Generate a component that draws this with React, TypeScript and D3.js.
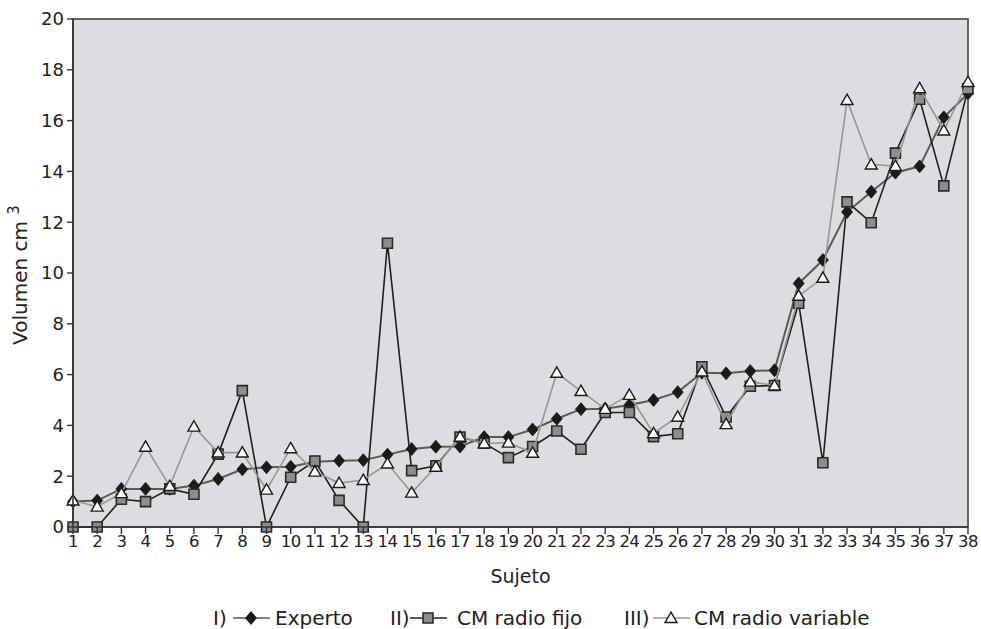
import React from "react";
import * as d3 from "d3";

const subjects = d3.range(1, 39);
const experto = [1.0, 1.04, 1.5, 1.5, 1.5, 1.63, 1.89, 2.27, 2.35, 2.37, 2.57, 2.61, 2.63, 2.85, 3.07, 3.16, 3.17, 3.54, 3.54, 3.84, 4.26, 4.64, 4.66, 4.8, 5.0, 5.31, 6.07, 6.05, 6.14, 6.17, 9.59, 10.51, 12.4, 13.2, 13.95, 14.2, 16.13, 17.07];
const radioFijo = [0, 0, 1.09, 1.0, 1.5, 1.29, 2.87, 5.37, 0, 1.96, 2.6, 1.05, 0, 11.17, 2.22, 2.41, 3.54, 3.3, 2.73, 3.17, 3.78, 3.06, 4.51, 4.51, 3.56, 3.67, 6.31, 4.33, 5.54, 5.57, 8.81, 2.53, 12.8, 11.98, 14.72, 16.84, 13.43, 17.25];
const radioVariable = [1.04, 0.8, 1.33, 3.16, 1.61, 3.95, 2.93, 2.93, 1.47, 3.1, 2.18, 1.73, 1.85, 2.5, 1.35, 2.37, 3.55, 3.29, 3.32, 2.92, 6.07, 5.35, 4.65, 5.2, 3.69, 4.34, 6.12, 4.05, 5.72, 5.57, 9.1, 9.81, 16.81, 14.27, 14.21, 17.27, 15.61, 17.52];
const yTicks = [0, 2, 4, 6, 8, 10, 12, 14, 16, 18, 20];

const FONT = "'DejaVu Sans', sans-serif";

const W = 981, H = 629;
const L = 73, R = 968, T = 19, B = 527;

const x = d3.scaleLinear().domain([1, 38]).range([L, R]);
const y = d3.scaleLinear().domain([0, 20]).range([B, T]);

const diamond = d3.symbol().type(d3.symbolDiamond2).size(105)()!;
const square = d3.symbol().type(d3.symbolSquare).size(100)()!;
const triangle = d3.symbol().type(d3.symbolTriangle).size(62)()!;

type Marker = "diamond" | "square" | "triangle";

function Mark({ kind, cx, cy }: { kind: Marker; cx: number; cy: number }) {
  if (kind === "diamond")
    return <path d={diamond} transform={`translate(${cx},${cy}) scale(0.85,1)`} fill="#1b1b1b" stroke="#1b1b1b" strokeWidth={1} />;
  if (kind === "square")
    return <path d={square} transform={`translate(${cx},${cy})`} fill="#8c8d8f" stroke="#2a2a2a" strokeWidth={1.6} />;
  return <path d={triangle} transform={`translate(${cx},${cy + 1})`} fill="#ffffff" stroke="#1b1b1b" strokeWidth={1.4} />;
}

const series: { values: number[]; color: string; width: number; kind: Marker }[] = [
  { values: experto, color: "#5a5a5a", width: 2, kind: "diamond" },
  { values: radioFijo, color: "#1f1f1f", width: 1.6, kind: "square" },
  { values: radioVariable, color: "#979797", width: 1.6, kind: "triangle" },
];

const line = d3.line<number>().x((_, i) => x(subjects[i])).y((v) => y(v));

export default function App() {
  return (
    <svg width={W} height={H} style={{ position: "absolute", left: 0, top: 0, background: "#fff" }} fontFamily={FONT}>
      <rect x={L} y={T} width={R - L} height={B - T} fill="#dcdde0" stroke="#444" strokeWidth={1.6} />
      {series.map((s, si) => (
        <g key={si}>
          <path d={line(s.values)!} fill="none" stroke={s.color} strokeWidth={s.width} strokeLinejoin="miter" />
          {s.values.map((v, i) => (
            <Mark key={i} kind={s.kind} cx={x(subjects[i])} cy={y(v)} />
          ))}
        </g>
      ))}
      <line x1={L} x2={L} y1={T} y2={B} stroke="#333" strokeWidth={1.6} />
      <line x1={L} x2={R} y1={B} y2={B} stroke="#333" strokeWidth={1.6} />
      {yTicks.map((t) => (
        <g key={t}>
          <line x1={L - 6} x2={L} y1={y(t)} y2={y(t)} stroke="#333" strokeWidth={1.4} />
          <text x={L - 9} y={y(t)} dy="0.36em" textAnchor="end" fontSize={18} fill="#222">{t}</text>
        </g>
      ))}
      {subjects.map((s) => (
        <g key={s}>
          <line x1={x(s)} x2={x(s)} y1={B} y2={B + 7} stroke="#333" strokeWidth={1.4} />
          <text x={x(s)} y={B + 20} textAnchor="middle" fontSize={16.5} fill="#222" letterSpacing={-0.6}>{s}</text>
        </g>
      ))}
      <text transform={`translate(27,${(T + B) / 2 + 2}) rotate(-90)`} textAnchor="middle" fontSize={20} fill="#222">
        Volumen cm <tspan dy={-8} fontSize={15}>3</tspan>
      </text>
      <text x={(L + R) / 2} y={583} textAnchor="middle" fontSize={19} fill="#222">Sujeto</text>
      <g fontSize={20} fill="#222">
        <text x={213} y={625}>I)</text>
        <line x1={233} x2={270} y1={618} y2={618} stroke="#5a5a5a" strokeWidth={1.6} />
        <Mark kind="diamond" cx={251} cy={618} />
        <text x={275} y={625}>Experto</text>
        <text x={390} y={625}>II)</text>
        <line x1={410} x2={447} y1={618} y2={618} stroke="#1f1f1f" strokeWidth={1.6} />
        <Mark kind="square" cx={428} cy={618} />
        <text x={457} y={625}>CM radio fijo</text>
        <text x={624} y={625}>III)</text>
        <line x1={653} x2={690} y1={618} y2={618} stroke="#979797" strokeWidth={1.6} />
        <Mark kind="triangle" cx={671} cy={618} />
        <text x={694} y={625}>CM radio variable</text>
      </g>
    </svg>
  );
}
